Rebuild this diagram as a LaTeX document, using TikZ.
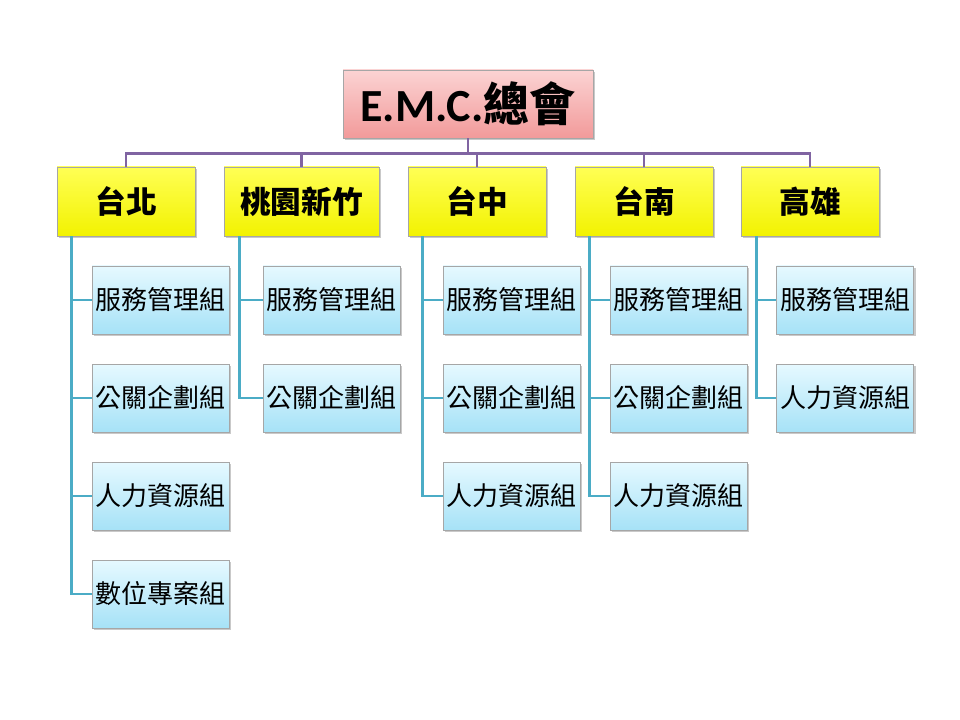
\documentclass[tikz,border=0pt]{standalone}
\usepackage{fontspec}
\newfontfamily\cjk{Noto Sans CJK TC}
\newfontfamily\lat{Carlito}
\usetikzlibrary{shadows}
\definecolor{pinkT}{HTML}{FBD3D3}
\definecolor{pinkB}{HTML}{F29A9A}
\definecolor{yelT}{HTML}{FFFF55}
\definecolor{yelB}{HTML}{F2F200}
\definecolor{bluT}{HTML}{E6F9FF}
\definecolor{bluB}{HTML}{A6E2F7}
\definecolor{edgeG}{HTML}{A6A6A6}
\definecolor{purp}{HTML}{8064A2}
\definecolor{tealc}{HTML}{4BACC6}
\tikzset{
  x=0.75pt, y=-0.75pt,
  basebox/.style={draw=edgeG, line width=0.6pt, inner sep=0pt,
    drop shadow={shadow xshift=1.5pt, shadow yshift=-1.5pt, opacity=0.35, fill=black!60}},
  topbox/.style={basebox, top color=pinkT, bottom color=pinkB,
    minimum width=187.5pt, minimum height=51pt, font=\fontsize{34.5}{37}\selectfont},
  regbox/.style={basebox, top color=yelT, bottom color=yelB,
    minimum width=103.5pt, minimum height=51.75pt, font=\cjk\bfseries\fontsize{23}{26}\selectfont},
  wregbox/.style={regbox, minimum width=116.25pt},
  grpbox/.style={basebox, top color=bluT, bottom color=bluB,
    minimum width=102.75pt, minimum height=51pt, font=\cjk\fontsize{19.5}{22}\selectfont},
  pline/.style={draw=purp, line width=2.2pt},
  tline/.style={draw=tealc, line width=2.2pt},
}
\begin{document}
\begin{tikzpicture}
\fill[white] (0,0) rectangle (960,720);
\useasboundingbox (0,0) rectangle (960,720);
\node[topbox] (top) at (468,104) {{\lat\bfseries E.M.C.}{\cjk\bfseries 總會}};
% regions
\node[regbox] (tp) at (126,201.5) {台北};
\node[wregbox] (ty) at (301.5,201.5) {桃園新竹};
\node[regbox] (tc) at (477,201.5) {台中};
\node[regbox] (tn) at (644,201.5) {台南};
\node[regbox] (kh) at (810,201.5) {高雄};
% connectors top -> regions
\foreach \r in {tp,ty,tc,tn,kh}{
  \draw[pline] (top.south) -- ++(0,15) -| (\r.north);
}
% groups
\node[grpbox] (tp1) at (160.5,300) {服務管理組};
\node[grpbox] (tp2) at (160.5,398) {公關企劃組};
\node[grpbox] (tp3) at (160.5,496) {人力資源組};
\node[grpbox] (tp4) at (160.5,594) {數位專案組};
\node[grpbox] (ty1) at (331.5,300) {服務管理組};
\node[grpbox] (ty2) at (331.5,398) {公關企劃組};
\node[grpbox] (tc1) at (511.5,300) {服務管理組};
\node[grpbox] (tc2) at (511.5,398) {公關企劃組};
\node[grpbox] (tc3) at (511.5,496) {人力資源組};
\node[grpbox] (tn1) at (678.5,300) {服務管理組};
\node[grpbox] (tn2) at (678.5,398) {公關企劃組};
\node[grpbox] (tn3) at (678.5,496) {人力資源組};
\node[grpbox] (kh1) at (845,300) {服務管理組};
\node[grpbox] (kh2) at (845,398) {人力資源組};
% connectors regions -> groups
\foreach \c in {tp1,tp2,tp3,tp4}{\draw[tline] ([xshift=11.25pt]tp.south west) |- (\c.west);}
\foreach \c in {ty1,ty2}{\draw[tline] ([xshift=12pt]ty.south west) |- (\c.west);}
\foreach \c in {tc1,tc2,tc3}{\draw[tline] ([xshift=11.25pt]tc.south west) |- (\c.west);}
\foreach \c in {tn1,tn2,tn3}{\draw[tline] ([xshift=11.25pt]tn.south west) |- (\c.west);}
\foreach \c in {kh1,kh2}{\draw[tline] ([xshift=12pt]kh.south west) |- (\c.west);}
\end{tikzpicture}
\end{document}
